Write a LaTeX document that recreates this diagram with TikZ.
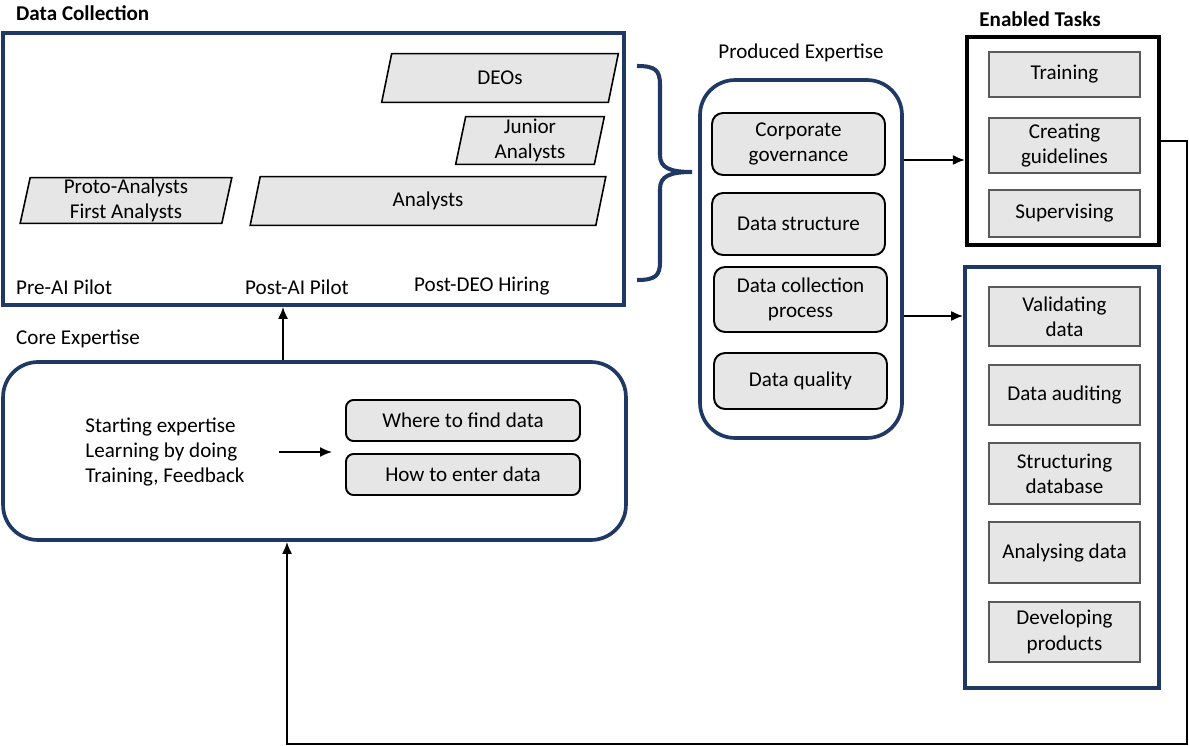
\documentclass[tikz,border=0pt]{standalone}
\usepackage{fontspec}
\setmainfont{Carlito}
\usetikzlibrary{arrows.meta,positioning,backgrounds}
\definecolor{NavyLine}{HTML}{1F3864}
\definecolor{BoxGray}{HTML}{E6E6E6}
\definecolor{EdgeGray}{HTML}{5A5A5A}

\begin{document}
\begin{tikzpicture}[x=0.02cm, y=-0.02cm,
    every node/.style={font=\fontsize{12}{14.4}\selectfont, align=center},
    frame/.style={draw=NavyLine, line width=2.1pt, inner sep=0pt},
    roundframe/.style={frame, rounded corners=0.7cm},
    expbox/.style={draw=black, fill=BoxGray, line width=1.1pt, rounded corners=0.22cm, minimum width=3.46cm},
    taskbox/.style={draw=EdgeGray, fill=BoxGray, line width=1pt, minimum width=3.02cm},
    corebox/.style={draw=black, fill=BoxGray, line width=1.1pt, rounded corners=0.15cm,
                    minimum width=4.68cm, minimum height=0.82cm},
    phase/.style={minimum height=0.96cm, inner sep=0pt},
    phasefill/.style={draw=black, fill=BoxGray, line width=0.9pt},
    arr/.style={-{Latex[length=2.4mm,width=2mm]}, line width=1.1pt}]
  \useasboundingbox (0,0) rectangle (1189,746);

  % data collection
  \node[anchor=west, font=\fontsize{12}{14.4}\selectfont\bfseries] (dctitle) at (10,13) {Data Collection};
  \node[frame, minimum width=12.42cm, minimum height=5.44cm] (dcbox) at (313.5,169) {};
  \node[phase, minimum width=4.52cm] (deo) at (500,78) {DEOs};
  \node[phase, minimum width=2.76cm, minimum height=0.94cm] (junior) at (530,140.5) {Junior\\Analysts};
  \node[phase, minimum width=6.9cm] (analyst) at (428,201) {Analysts};
  \node[phase, minimum width=4.02cm, minimum height=0.9cm] (proto) at (126,200.5) {Proto-Analysts\\First Analysts};
  \begin{scope}[on background layer]
    \foreach \n in {deo,junior,analyst,proto}
      \draw[phasefill] ([xshift=1mm]\n.north west) -- ([xshift=1mm]\n.north east)
        -- ([xshift=-1mm]\n.south east) -- ([xshift=-1mm]\n.south west) -- cycle;
  \end{scope}
  \node[anchor=west] (pre) at (10,287) {Pre-AI Pilot};
  \node[anchor=west] (post) at (239,287) {Post-AI Pilot};
  \node[anchor=west] (hire) at (408,286) {Post-DEO Hiring};

  % brace
  \draw[NavyLine, line width=2.3pt] (637,66) .. controls (655,66) and (660,70) .. (660,85) -- (660,155)
    .. controls (660,168) and (670,172) .. (692,172) .. controls (670,172) and (660,176) .. (660,189)
    -- (660,262) .. controls (660,276) and (655,280) .. (637,280);

  % produced expertise
  \node (petitle) at (801,53) {Produced Expertise};
  \node[roundframe, minimum width=4.04cm, minimum height=7.16cm] (pebox) at (801,259) {};
  \node[expbox, minimum height=1.24cm] (corp) at (798.5,144) {Corporate\\governance};
  \node[expbox, minimum height=1.24cm] (dstruct) at (798.5,224) {Data structure};
  \node[expbox, minimum height=1.3cm] (dcoll) at (800.5,299.5) {Data collection\\process};
  \node[expbox, minimum height=1.12cm] (dqual) at (800.5,381) {Data quality};

  % enabled tasks
  \node[font=\fontsize{12}{14.4}\selectfont\bfseries] (ettitle) at (1040,19) {Enabled Tasks};
  \node[draw=black, line width=2.4pt, minimum width=3.84cm, minimum height=4.16cm] (etbox) at (1063,141) {};
  \node[taskbox, minimum height=0.9cm] (train) at (1064.5,74.5) {Training};
  \node[taskbox, minimum height=1.1cm] (guide) at (1064.5,145.5) {Creating\\guidelines};
  \node[taskbox, minimum height=0.94cm] (superv) at (1064.5,213.5) {Supervising};

  \node[frame, minimum width=3.88cm, minimum height=8.42cm] (tbox) at (1062,477.5) {};
  \node[taskbox, minimum height=1.18cm] (valid) at (1064.5,316.5) {Validating\\data};
  \node[taskbox, minimum height=1.2cm] (audit) at (1064.5,395) {Data auditing};
  \node[taskbox, minimum height=1.22cm] (structdb) at (1064.5,473.5) {Structuring\\database};
  \node[taskbox, minimum height=1.22cm] (analys) at (1064.5,552.5) {Analysing data};
  \node[taskbox, minimum height=1.2cm] (develop) at (1064.5,632) {Developing\\products};

  % core expertise
  \node (cetitle) at (78,339) {Core Expertise};
  \node[roundframe, minimum width=12.46cm, minimum height=3.56cm] (cebox) at (314.5,451) {};
  \node[align=left] (start) at (165,452) {Starting expertise\\Learning by doing\\Training, Feedback};
  \node[corebox] (find) at (463,420.5) {Where to find data};
  \node[corebox] (enter) at (463,474.5) {How to enter data};

  % connectors
  \coordinate (loop) at (1187,744);
  \draw[arr] ([xshift=0.56cm]start.east) -- ([xshift=-0.26cm]find.west |- start.east);
  \draw[arr] ([xshift=-0.63cm]cebox.north) -- ([xshift=-0.63cm]cebox.north |- dcbox.south);
  \draw[arr] ([yshift=-0.32cm]corp.east -| pebox.east) -- ([yshift=-0.32cm]corp.east -| etbox.west);
  \draw[arr] ([yshift=-0.33cm]dcoll.east -| pebox.east) -- ([yshift=-0.33cm]dcoll.east -| tbox.west);
  \draw[arr] (etbox.east) -| (loop) -| ([xshift=-0.55cm]cebox.south);
\end{tikzpicture}
\end{document}
